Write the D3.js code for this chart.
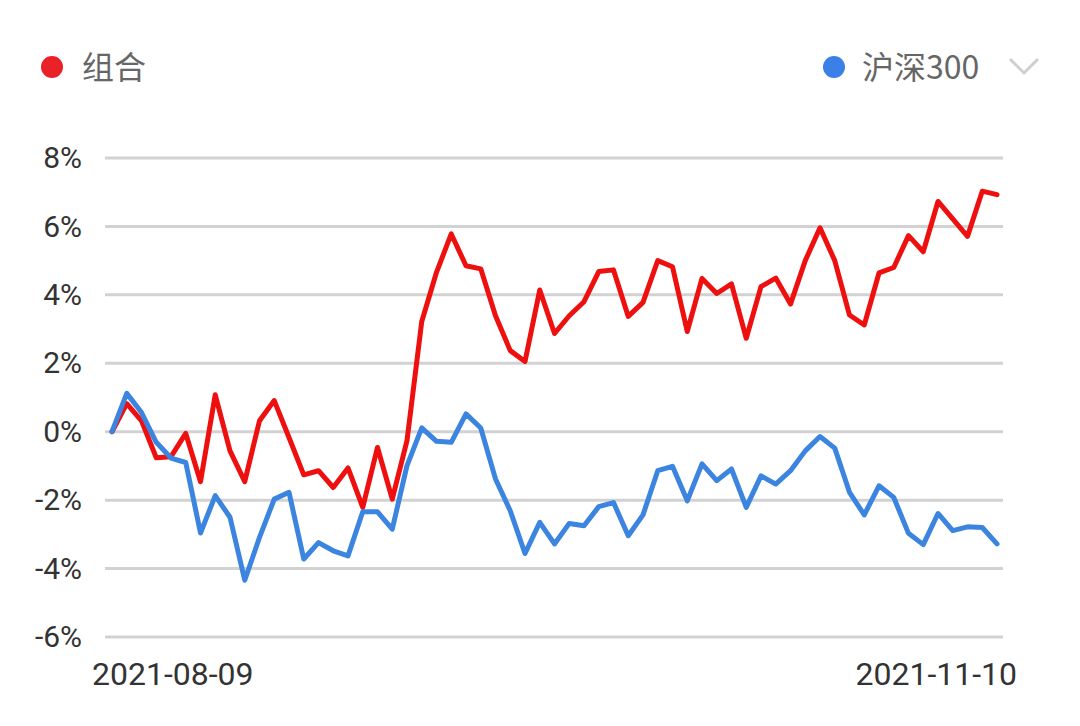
<!DOCTYPE html>
<html>
<head>
<meta charset="utf-8">
<script src="https://cdn.jsdelivr.net/npm/d3@7"></script>
<style>
  html, body { margin: 0; padding: 0; background: #fff; }
  svg { display: block; }
</style>
</head>
<body>
<div class="container_graph"></div>
<script>
// series names and colours
const seriesNames = ["组合", "沪深300"];
const seriesColors = ["#ee0f0f", "#3b84e0"];

// cumulative return, %, one value per trading day
const portfolio = [
  0, 0.82, 0.32, -0.76, -0.73, -0.05, -1.46, 1.08, -0.56, -1.46,
  0.32, 0.91, -0.17, -1.26, -1.14, -1.63, -1.06, -2.21, -0.46, -1.97,
  -0.26, 3.22, 4.66, 5.78, 4.85, 4.76, 3.39, 2.37, 2.05, 4.14,
  2.87, 3.39, 3.8, 4.68, 4.73, 3.37, 3.78, 5.0, 4.82, 2.93,
  4.48, 4.04, 4.32, 2.73, 4.24, 4.49, 3.73, 5.0, 5.96, 5.0,
  3.41, 3.12, 4.64, 4.8, 5.73, 5.26, 6.73, 6.22, 5.71, 7.03,
  6.93
];
const hs300 = [
  0, 1.12, 0.56, -0.31, -0.77, -0.9, -2.96, -1.87, -2.5, -4.34,
  -3.09, -1.97, -1.77, -3.72, -3.24, -3.48, -3.63, -2.34, -2.34, -2.85,
  -0.99, 0.11, -0.28, -0.31, 0.52, 0.11, -1.38, -2.31, -3.56, -2.65,
  -3.28, -2.68, -2.75, -2.19, -2.07, -3.04, -2.43, -1.14, -1.01, -2.02,
  -0.94, -1.43, -1.09, -2.21, -1.29, -1.53, -1.14, -0.56, -0.14, -0.48,
  -1.77, -2.43, -1.58, -1.92, -2.97, -3.3, -2.39, -2.89, -2.78, -2.8,
  -3.28
];

// axis ticks
const yTicks = [-6, -4, -2, 0, 2, 4, 6, 8];
const xTickLabels = ["2021-08-09", "2021-11-10"];

const width = 1080;
const height = 726;

const svg = d3
  .select(".container_graph")
  .append("svg")
  .attr("width", width)
  .attr("height", height);

const xScale = d3.scaleLinear().domain([0, portfolio.length - 1]).range([112, 997]);
const yScale = d3.scaleLinear().domain([-6, 8]).range([637, 158]);

// grid
svg
  .append("g")
  .selectAll("line")
  .data(yTicks)
  .enter()
  .append("line")
  .attr("x1", 105)
  .attr("x2", 1003)
  .attr("y1", (d) => yScale(d))
  .attr("y2", (d) => yScale(d))
  .attr("stroke", "#d2d2d2")
  .attr("stroke-width", 3);

// y labels
const yAxis = d3
  .axisLeft(yScale)
  .tickValues(yTicks)
  .tickSize(0)
  .tickPadding(0)
  .tickFormat((d) => d + "%");

const gy = svg.append("g").attr("transform", "translate(82,0)").call(yAxis);
gy.select(".domain").remove();
gy.selectAll("text")
  .attr("font-family", "Roboto, sans-serif")
  .attr("font-size", 30)
  .attr("fill", "#333");

// x labels
svg
  .append("g")
  .selectAll("text")
  .data(xTickLabels)
  .enter()
  .append("text")
  .attr("x", (d, i) => (i === 0 ? 92 : 1017))
  .attr("y", 685)
  .attr("text-anchor", (d, i) => (i === 0 ? "start" : "end"))
  .attr("font-family", "Roboto, sans-serif")
  .attr("font-size", 32)
  .attr("fill", "#333")
  .text((d) => d);

// lines
const line = d3
  .line()
  .x((d, i) => xScale(i))
  .y((d) => yScale(d));

[portfolio, hs300].forEach((values, k) => {
  svg
    .append("path")
    .datum(values)
    .attr("d", line)
    .attr("fill", "none")
    .attr("stroke", seriesColors[k])
    .attr("stroke-width", 5)
    .attr("stroke-linejoin", "round")
    .attr("stroke-linecap", "round");
});

// legend
const legendPos = [
  { cx: 52, tx: 82 },
  { cx: 834, tx: 862 },
];

const legend = svg.append("g");
legend
  .selectAll("circle")
  .data(seriesNames)
  .enter()
  .append("circle")
  .attr("cx", (d, i) => legendPos[i].cx)
  .attr("cy", 67)
  .attr("r", 11)
  .attr("fill", (d, i) => (i === 0 ? "#ea2127" : "#3b80e8"));

legend
  .selectAll("text")
  .data(seriesNames)
  .enter()
  .append("text")
  .attr("x", (d, i) => legendPos[i].tx)
  .attr("y", 79)
  .attr("font-family", "'Noto Sans CJK SC', sans-serif")
  .attr("font-size", 32)
  .attr("fill", "#666")
  .text((d) => d);

// dropdown chevron
svg
  .append("path")
  .attr("d", "M1010,59 L1024,73 L1038,59")
  .attr("fill", "none")
  .attr("stroke", "#cfcfcf")
  .attr("stroke-width", 3);
</script>
</body>
</html>
